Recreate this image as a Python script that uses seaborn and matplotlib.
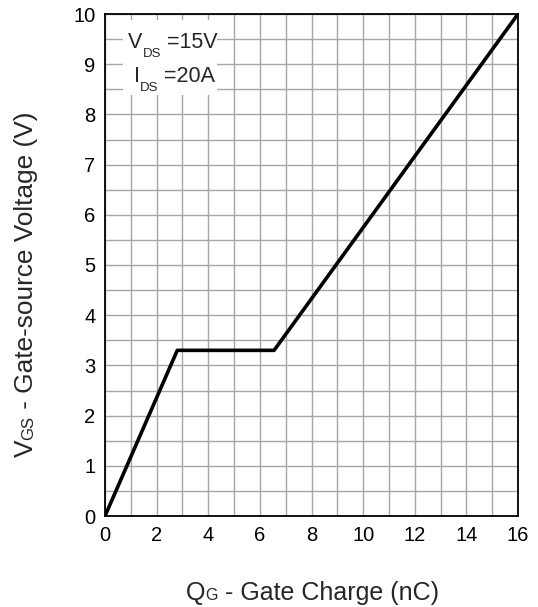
import numpy as np
import pandas as pd
import seaborn as sns
from matplotlib import pyplot as plt
from matplotlib.patches import Rectangle
from matplotlib.transforms import IdentityTransform

# gate charge curve
q_gate = [0.0, 2.8, 6.55, 16.0]
v_gs = [0.0, 3.3, 3.3, 10.0]
x_ticks = [0, 2, 4, 6, 8, 10, 12, 14, 16]
y_ticks = [0, 1, 2, 3, 4, 5, 6, 7, 8, 9, 10]

sns.set_style('white')
plt.rcParams['font.family'] = ['Liberation Sans', 'DejaVu Sans']

fig = plt.figure(figsize=(5.38, 6.07), dpi=100, facecolor='white')
ax = fig.add_axes([105 / 538, 91 / 607, 413 / 538, 502 / 607])

df = pd.DataFrame({'Q': q_gate, 'V': v_gs})
sns.lineplot(data=df, x='Q', y='V', color='black', linewidth=2.6,
             ax=ax, zorder=5, sort=False)

ax.set_xlim(0, 16)
ax.set_ylim(0, 10)
ax.set_xticks(x_ticks)
ax.set_yticks(y_ticks)
ax.set_xticks(np.arange(0, 17, 1), minor=True)
ax.set_yticks(np.arange(0, 10.5, 0.5), minor=True)
ax.grid(which='both', color='#a6a6a6', linewidth=1.0)
ax.tick_params(which='both', length=0, labelsize=14.5, colors='black')
ax.tick_params(axis='x', pad=7)
ax.tick_params(axis='y', pad=7)
ax.set_xlabel('')
ax.set_ylabel('')
for sp in ax.spines.values():
    sp.set_visible(True)
    sp.set_color('black')
    sp.set_linewidth(1.3)
    sp.set_zorder(6)

# white box behind the test conditions
ax.add_patch(Rectangle((0.044, 0.839), 0.227, 0.149, transform=ax.transAxes,
                       facecolor='white', edgecolor='none', zorder=3))

fig.canvas.draw()
renderer = fig.canvas.get_renderer()


def put_runs(x, y, runs, rotation=0):
    # place text pieces one after another (pixel coords), each (text, size, shift)
    for txt, size, shift in runs:
        if rotation == 90:
            t = fig.text(x - shift, y, txt, fontsize=size, rotation=90,
                         ha='left', va='baseline', rotation_mode='anchor',
                         transform=IdentityTransform())
        else:
            t = fig.text(x, y + shift, txt, fontsize=size, ha='left',
                         va='baseline', transform=IdentityTransform())
        bb = t.get_window_extent(renderer)
        if rotation == 90:
            y += bb.height
        else:
            x += bb.width


# test conditions (pixel coords from bottom-left)
put_runs(128, 607 - 48, [('V', 15.5, 0), ('DS', 9.5, -9), (' =15V', 15.5, 0)])
put_runs(134, 607 - 82, [('I', 15.5, 0), ('DS', 9.5, -9), (' =20A', 15.5, 0)])

# axis labels with small-caps style subscripts
put_runs(186, 607 - 600, [('Q', 18, 0), ('G', 11.5, 0), (' - Gate Charge (nC)', 18, 0)])
put_runs(33, 607 - 457, [('V', 18.9, 0), ('GS', 12, 0), (' - Gate-source Voltage (V)', 18.9, 0)],
         rotation=90)

fig.savefig('out.png', dpi=100, facecolor='white')
